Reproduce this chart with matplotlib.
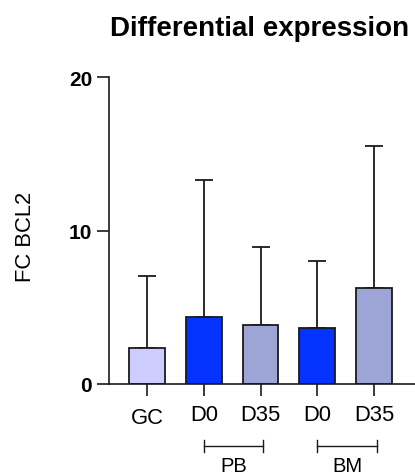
import matplotlib
matplotlib.use("Agg")
import matplotlib.pyplot as plt
from matplotlib.transforms import offset_copy

plt.rcParams["font.family"] = ["Liberation Sans", "DejaVu Sans"]

# data
labels = ["GC", "D0", "D35", "D0", "D35"]
means = [2.37, 4.36, 3.82, 3.65, 6.23]
upper_err = [4.67, 8.94, 5.10, 4.38, 9.27]
bar_colors = ["#CCCCFF", "#0433FF", "#9DA4D6", "#0433FF", "#9DA4D6"]
groups = [("PB", 1, 2), ("BM", 3, 4)]
yticks = [0, 10, 20]

fig = plt.figure(figsize=(4.15, 4.77), dpi=100)
ax = fig.add_axes([109 / 415, 92 / 477, 306 / 415, 307 / 477])

x = list(range(len(labels)))
ax.bar(x, means, width=0.63, color=bar_colors, edgecolor="#1a1a1a", linewidth=1.3, zorder=2)
ax.errorbar(x, means, yerr=[[0] * len(means), upper_err], fmt="none",
            ecolor="#1a1a1a", elinewidth=1.3, capsize=6.8, capthick=1.3, zorder=1)

ax.set_xlim(-0.67, 4.72)
ax.set_ylim(0, 20)
ax.set_yticks(yticks)
ax.set_yticklabels([str(t) for t in yticks], fontweight="bold", fontsize=15)
ax.set_xticks(x)
ax.set_xticklabels(labels, fontsize=15.8)

for side in ["top", "right"]:
    ax.spines[side].set_visible(False)
for side in ["left", "bottom"]:
    ax.spines[side].set_linewidth(1.2)
    ax.spines[side].set_color("#1a1a1a")
ax.tick_params(axis="both", length=8.6, width=1.2, color="#1a1a1a")
ax.tick_params(axis="y", pad=3.6)
ax.tick_params(axis="x", pad=5.5)

# GC label sits a bit lower in the original
gc = ax.get_xticklabels()[0]
gc.set_transform(offset_copy(gc.get_transform(), fig=fig, x=0, y=-3, units="dots"))

ax.set_ylabel("FC BCL2", fontsize=15.8)
ax.yaxis.set_label_coords(-0.24, 0.482)

# group brackets under the x labels
trans = ax.get_xaxis_transform()
for name, i0, i1 in groups:
    x0, x1 = i0, i1 + 0.05
    ax.plot([x0, x1], [-0.202, -0.202], color="#1a1a1a", lw=1.0, transform=trans, clip_on=False)
    for xe in (x0, x1):
        ax.plot([xe, xe], [-0.181, -0.223], color="#1a1a1a", lw=1.0, transform=trans, clip_on=False)
    ax.text((x0 + x1) / 2, -0.265, name, fontsize=14.5, ha="center", va="center",
            transform=trans, clip_on=False)

fig.text(260 / 415, 1 - 36 / 477, "Differential expression", fontsize=20,
         fontweight="bold", ha="center", va="baseline")

fig.savefig("out.png", dpi=100)
